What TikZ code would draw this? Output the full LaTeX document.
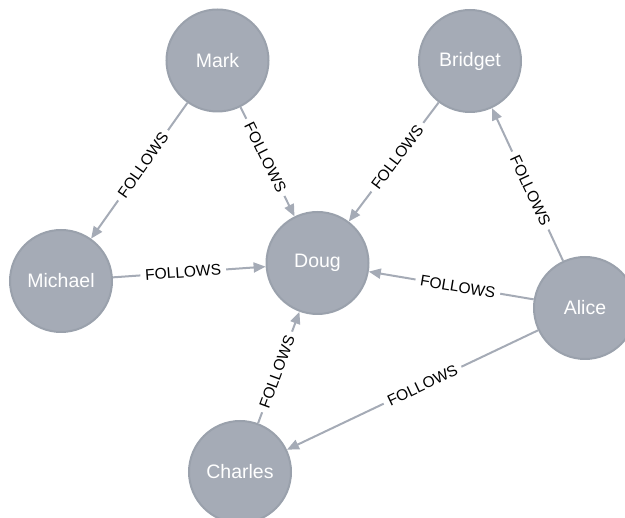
\documentclass[tikz,border=0pt]{standalone}
\usepackage{fontspec}
\setmainfont{Liberation Sans}
\usetikzlibrary{arrows.meta}
\definecolor{nodefill}{HTML}{A5ABB6}
\definecolor{nodeline}{HTML}{9AA1AC}
\definecolor{edgecol}{HTML}{A5ABB6}
\tikzset{
  person/.style={circle, fill=nodefill, draw=nodeline, line width=2pt,
    minimum size=102pt, inner sep=0pt, text=white,
    font=\fontsize{19.5}{20}\selectfont},
  rel/.style={draw=edgecol, line width=2pt,
    -{Triangle[length=12pt,width=10pt]}, fill=edgecol},
  rellabel/.style={sloped, fill=white, text=black, inner xsep=5pt, inner ysep=1pt,
    font=\fontsize{15.5}{16}\selectfont, pos=0.46}
}
\begin{document}
\begin{tikzpicture}[x=1pt, y=-1pt]
  \useasboundingbox (0,0) rectangle (625,518);
  \clip (0,0) rectangle (625,518);

  % people
  \node[person] (mark)    at (217.5, 60.5) {Mark};
  \node[person] (bridget) at (470, 61) {Bridget};
  \node[person] (michael) at (61, 281) {Michael};
  \node[person] (doug)    at (317.5, 263) {Doug};
  \node[person] (alice)   at (585, 308) {Alice};
  \node[person] (charles) at (240, 472) {Charles};

  % FOLLOWS relationships
  \draw[rel] (mark)    -- node[rellabel] {FOLLOWS} (michael);
  \draw[rel] (mark)    -- node[rellabel] {FOLLOWS} (doug);
  \draw[rel] (bridget) -- node[rellabel] {FOLLOWS} (doug);
  \draw[rel] (alice)   -- node[rellabel] {FOLLOWS} (bridget);
  \draw[rel] (michael) -- node[rellabel] {FOLLOWS} (doug);
  \draw[rel] (alice)   -- node[rellabel] {FOLLOWS} (doug);
  \draw[rel] (charles) -- node[rellabel] {FOLLOWS} (doug);
  \draw[rel] (alice)   -- node[rellabel] {FOLLOWS} (charles);
\end{tikzpicture}
\end{document}
